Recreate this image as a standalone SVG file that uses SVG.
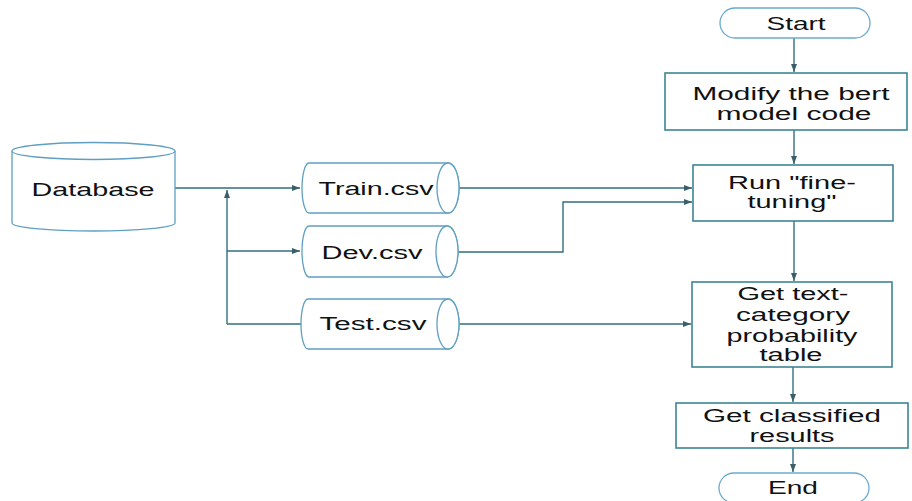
<svg xmlns="http://www.w3.org/2000/svg" width="912" height="501" viewBox="0 0 912 501">
<defs>
<marker id="arr" markerWidth="9" markerHeight="7" refX="8" refY="3" orient="auto" markerUnits="userSpaceOnUse">
<path d="M0,0 L8,3 L0,6 z" fill="#3b5f6a"/>
</marker>
<style>
.conn{fill:none;stroke:#2f6f7e;stroke-width:1.4}
.box{fill:#fff;stroke:#3d8595;stroke-width:1.6}
.cyl{fill:#fff;stroke:#5f9fc2;stroke-width:1.3}
.term{fill:#fff;stroke:#6aaad0;stroke-width:1.3}
text{font-family:"Liberation Sans",Arial,sans-serif;fill:#111;text-anchor:middle;font-size:17.5px}
.lg{font-size:19px}
.md{font-size:18px}
</style>
</defs>
<rect width="912" height="501" fill="#fff"/>
<g id="connectors">
<path class="conn" d="M175,188 H300" marker-end="url(#arr)"/>
<path class="conn" d="M227,324 V190" marker-end="url(#arr)"/>
<path class="conn" d="M227,251 H300" marker-end="url(#arr)"/>
<path class="conn" d="M227,324 H302"/>
<path class="conn" d="M459,188 H692" marker-end="url(#arr)"/>
<path class="conn" d="M458,252 H563 V202 H692" marker-end="url(#arr)"/>
<path class="conn" d="M459,324 H691" marker-end="url(#arr)"/>
<path class="conn" d="M794,38 V72" marker-end="url(#arr)"/>
<path class="conn" d="M794,130 V164" marker-end="url(#arr)"/>
<path class="conn" d="M794,221 V281" marker-end="url(#arr)"/>
<path class="conn" d="M793,367 V402" marker-end="url(#arr)"/>
<path class="conn" d="M793,448 V472" marker-end="url(#arr)"/>
</g>
<g id="database">
<path class="cyl" d="M12,151 V223 A81.5,8 0 0 0 175,223 V151"/>
<ellipse class="cyl" cx="93.5" cy="151" rx="81.5" ry="8.5"/>
<text class="lg" x="93" y="196" textLength="123" lengthAdjust="spacingAndGlyphs">Database</text>
</g>
<g id="train">
<path class="cyl" d="M309,163 H448 A11,25 0 0 1 448,213 H309 A7,25 0 0 1 309,163 Z"/>
<ellipse class="cyl" cx="448" cy="188" rx="11" ry="25"/>
<text class="md" x="376" y="195" textLength="115" lengthAdjust="spacingAndGlyphs">Train.csv</text>
</g>
<g id="dev">
<path class="cyl" d="M309,226 H447 A11,25.5 0 0 1 447,277 H309 A7,25.5 0 0 1 309,226 Z"/>
<ellipse class="cyl" cx="447" cy="251.5" rx="11" ry="25.5"/>
<text class="md" x="372" y="259" textLength="101" lengthAdjust="spacingAndGlyphs">Dev.csv</text>
</g>
<g id="test">
<path class="cyl" d="M308,299 H448 A11,25 0 0 1 448,349 H308 A7,25 0 0 1 308,299 Z"/>
<ellipse class="cyl" cx="448" cy="324" rx="11" ry="25"/>
<text class="md" x="373" y="330" textLength="107" lengthAdjust="spacingAndGlyphs">Test.csv</text>
</g>
<g id="start">
<rect class="term" x="720" y="8" width="150" height="30" rx="15"/>
<text x="796" y="30" textLength="59" lengthAdjust="spacingAndGlyphs">Start</text>
</g>
<g id="modify">
<rect class="box" x="665" y="73" width="242" height="57"/>
<text x="791" y="100" textLength="197" lengthAdjust="spacingAndGlyphs">Modify the bert</text>
<text x="794" y="120" textLength="155" lengthAdjust="spacingAndGlyphs">model code</text>
</g>
<g id="run">
<rect class="box" x="693" y="165" width="200" height="56"/>
<text x="792" y="189" textLength="128" lengthAdjust="spacingAndGlyphs">Run "fine-</text>
<text x="792" y="208" textLength="89" lengthAdjust="spacingAndGlyphs">tuning"</text>
</g>
<g id="gettext">
<rect class="box" x="692" y="282" width="200" height="85"/>
<text x="793" y="300" textLength="111" lengthAdjust="spacingAndGlyphs">Get text-</text>
<text x="793" y="321" textLength="114" lengthAdjust="spacingAndGlyphs">category</text>
<text x="792" y="342" textLength="131" lengthAdjust="spacingAndGlyphs">probability</text>
<text x="791" y="361" textLength="63" lengthAdjust="spacingAndGlyphs">table</text>
</g>
<g id="classified">
<rect class="box" x="676" y="403" width="232" height="45"/>
<text x="792" y="422" textLength="178" lengthAdjust="spacingAndGlyphs">Get classified</text>
<text x="792" y="442" textLength="85" lengthAdjust="spacingAndGlyphs">results</text>
</g>
<g id="end">
<rect class="term" x="719" y="473" width="150" height="30" rx="15"/>
<text x="793" y="494" textLength="50" lengthAdjust="spacingAndGlyphs">End</text>
</g>
</svg>
